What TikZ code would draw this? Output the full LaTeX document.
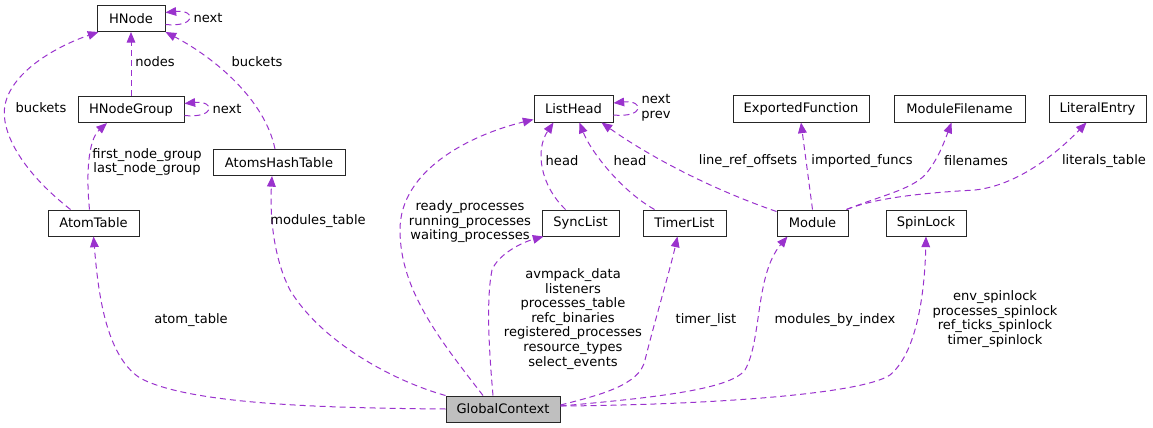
\documentclass[tikz,border=0pt]{standalone}
\usepackage{fontspec}
\setmainfont{DejaVu Sans}
\usetikzlibrary{arrows.meta,calc}
\definecolor{edgecol}{RGB}{154,50,205}
\definecolor{mainfill}{RGB}{191,191,191}
\begin{document}
\begin{tikzpicture}[x=0.75pt,y=-0.75pt,
  font=\fontsize{9.8pt}{10.9pt}\selectfont,
  cls/.style={draw=black!85,line width=0.75pt,minimum height=19.5pt,inner sep=2pt,fill=white},
  uses/.style={draw=edgecol,line width=0.75pt,dash pattern=on 4.5pt off 3pt,-{Triangle[length=8pt,width=6.5pt,fill=edgecol]}},
  lbl/.style={align=center,inner sep=0pt}]
  \useasboundingbox (0,0) rectangle (1153,428);
  \node[cls,minimum width=51pt] (hnode) at (131,18.5) {HNode};
  \node[cls,minimum width=79.5pt] (hgroup) at (131,109.5) {HNodeGroup};
  \node[cls,minimum width=68.25pt] (atoms) at (93.5,223) {AtomTable};
  \node[cls,minimum width=99pt] (ahash) at (279,162.5) {AtomsHashTable};
  \node[cls,minimum width=59.25pt] (lhead) at (573.5,109) {ListHead};
  \node[cls,minimum width=57.75pt] (sync) at (580.5,223) {SyncList};
  \node[cls,minimum width=62.25pt] (timer) at (684.5,223) {TimerList};
  \node[cls,minimum width=102pt] (expfn) at (801,109) {ExportedFunction};
  \node[cls,minimum width=98.25pt] (modfile) at (959.5,109) {ModuleFilename};
  \node[cls,minimum width=72.75pt] (literal) at (1097.5,109) {LiteralEntry};
  \node[cls,minimum width=53.25pt] (module) at (812.5,223) {Module};
  \node[cls,minimum width=60pt] (spin) at (926,223) {SpinLock};
  \node[cls,minimum width=85.5pt,fill=mainfill] (gc) at (503,409) {GlobalContext};

  \draw[uses] ($(hnode.east)+(0,6)$) .. controls +(31,3) and +(31,-3) .. ($(hnode.east)+(0,-6)$);
  \node[lbl] (l-hnext) at (208,18) {next};
  \draw[uses] (hgroup.north) -- (hnode.south);
  \node[lbl] (l-nodes) at (155,62) {nodes};
  \draw[uses] ($(hgroup.east)+(0,6)$) .. controls +(31,3) and +(31,-3) .. ($(hgroup.east)+(0,-6)$);
  \node[lbl] (l-gnext) at (227,109) {next};
  \draw[uses] ($(atoms.north)+(-23,0)$) .. controls (20,170) and (0,130) .. (5,105)
    .. controls (12,70) and (60,45) .. ($(hnode.south west)+(2,0)$);
  \node[lbl] (l-abuck) at (41,108) {buckets};
  \draw[uses] ($(atoms.north)+(-4,0)$) .. controls (86,175) and (88,140) .. ($(hgroup.south)+(-24,0)$);
  \node[lbl] (l-group) at (147,162) {first\_node\_group\\last\_node\_group};
  \draw[uses] ($(ahash.north)+(-4,0)$) .. controls (265,100) and (215,58) .. ($(hnode.south east)+(0,0)$);
  \node[lbl] (l-hbuck) at (257,62) {buckets};

  \draw[uses] (gc.west) .. controls (330,408) and (190,405) .. (140,378)
    .. controls (105,355) and (98,290) .. (atoms.south);
  \node[lbl] (l-atom) at (191,320) {atom\_table};
  \draw[uses] (gc.north west) .. controls (390,380) and (320,340) .. (290,290)
    .. controls (272,255) and (270,210) .. ($(ahash.south)+(-7,0)$);
  \node[lbl] (l-mtab) at (318,221) {modules\_table};
  \draw[uses] ($(gc.north)+(-20,0)$) .. controls (440,340) and (400,290) .. (400,230)
    .. controls (400,170) and (470,135) .. ($(lhead.south west)+(0,-3)$);
  \node[lbl] (l-proc) at (470,222) {ready\_processes\\running\_processes\\waiting\_processes};
  \draw[uses] ($(gc.north)+(-10,0)$) .. controls (489,350) and (486,300) .. (492,270)
    .. controls (498,255) and (520,243) .. ($(sync.south west)+(2,0)$);
  \node[lbl] (l-sync) at (573,319) {avmpack\_data\\listeners\\processes\_table\\refc\_binaries\\registered\_processes\\resource\_types\\select\_events};
  \draw[uses] ($(gc.east)+(0,-4)$) .. controls (600,395) and (640,385) .. (645,360)
    .. controls (655,320) and (670,270) .. ($(timer.south)+(-7,0)$);
  \node[lbl] (l-timer) at (706,320) {timer\_list};
  \draw[uses] ($(gc.east)+(0,-3)$) .. controls (650,398) and (730,390) .. (745,370)
    .. controls (762,340) and (755,275) .. ($(module.south)+(-25,0)$);
  \node[lbl] (l-mods) at (835,320) {modules\_by\_index};
  \draw[uses] ($(gc.east)+(0,-3)$) .. controls (700,405) and (860,395) .. (890,375)
    .. controls (920,350) and (925,280) .. (spin.south);
  \node[lbl] (l-spin) at (995,319) {env\_spinlock\\processes\_spinlock\\ref\_ticks\_spinlock\\timer\_spinlock};

  \draw[uses] ($(sync.north)+(-15,0)$) .. controls (540,185) and (535,150) .. ($(lhead.south)+(-20,0)$);
  \node[lbl] (l-shead) at (562,161) {head};
  \draw[uses] ($(timer.north)+(-30,0)$) .. controls (620,190) and (590,150) .. ($(lhead.south)+(6,0)$);
  \node[lbl] (l-thead) at (630,161) {head};
  \draw[uses] ($(module.north west)+(0,2)$) .. controls (700,185) and (640,150) .. ($(lhead.south)+(28,0)$);
  \node[lbl] (l-lref) at (748,161) {line\_ref\_offsets};
  \draw[uses] (module.north) -- (expfn.south);
  \node[lbl] (l-imp) at (862,161) {imported\_funcs};
  \draw[uses] ($(module.north east)+(-2,0)$) .. controls (880,196) and (910,190) .. (925,175)
    .. controls (938,160) and (945,140) .. ($(modfile.south)+(-8,0)$);
  \node[lbl] (l-files) at (976,161) {filenames};
  \draw[uses] ($(module.north east)+(-2,0)$) .. controls (880,196) and (940,192) .. (975,190)
    .. controls (1020,185) and (1060,150) .. ($(literal.south)+(-11,0)$);
  \node[lbl] (l-lits) at (1104,161) {literals\_table};
  \draw[uses] ($(lhead.east)+(0,6)$) .. controls +(31,3) and +(31,-3) .. ($(lhead.east)+(0,-6)$);
  \node[lbl] (l-lnext) at (656,108) {next\\prev};
\end{tikzpicture}
\end{document}
